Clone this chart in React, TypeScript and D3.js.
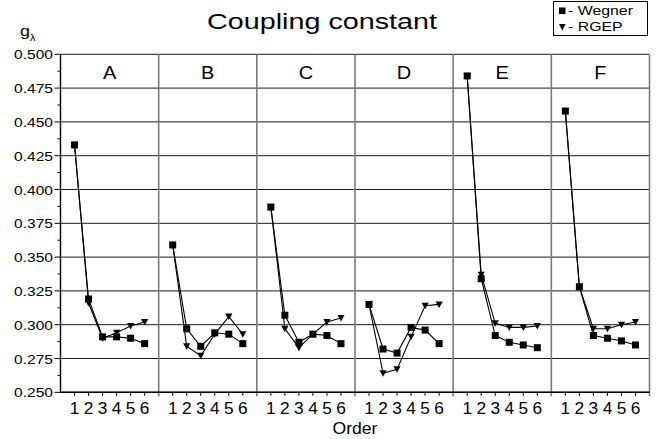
import React from "react";
import * as d3 from "d3";

const panels = ["A", "B", "C", "D", "E", "F"];
const orders = [1, 2, 3, 4, 5, 6];
const yTicks = [0.25, 0.275, 0.3, 0.325, 0.35, 0.375, 0.4, 0.425, 0.45, 0.475, 0.5];

const wegnerA = [0.433, 0.319, 0.291, 0.291, 0.29, 0.286];
const wegnerB = [0.359, 0.297, 0.284, 0.294, 0.293, 0.286];
const wegnerC = [0.387, 0.307, 0.287, 0.293, 0.292, 0.286];
const wegnerD = [0.315, 0.282, 0.279, 0.298, 0.296, 0.286];
const wegnerE = [0.484, 0.334, 0.292, 0.287, 0.285, 0.283];
const wegnerF = [0.458, 0.328, 0.292, 0.29, 0.288, 0.285];

const rgepA = [0.433, 0.316, 0.29, 0.294, 0.299, 0.302];
const rgepB = [0.359, 0.284, 0.277, 0.293, 0.306, 0.293];
const rgepC = [0.387, 0.297, 0.283, 0.293, 0.302, 0.305];
const rgepD = [0.315, 0.264, 0.267, 0.291, 0.314, 0.315];
const rgepE = [0.484, 0.337, 0.301, 0.298, 0.298, 0.299];
const rgepF = [0.458, 0.328, 0.297, 0.297, 0.3, 0.302];

const wegner = [wegnerA, wegnerB, wegnerC, wegnerD, wegnerE, wegnerF];
const rgep = [rgepA, rgepB, rgepC, rgepD, rgepE, rgepF];

const W = 657;
const H = 439;
const L = 60.5;
const R = 649.5;
const T = 54.3;
const B = 392.3;
const FONT = "'Liberation Sans', Arial, Helvetica, sans-serif";

type TProps = {
  x: number;
  y: number;
  size: number;
  sx?: number;
  anchor?: "start" | "middle" | "end";
  children: React.ReactNode;
};

function SText({ x, y, size, sx = 1.2, anchor = "start", children }: TProps) {
  return (
    <text
      transform={`translate(${x},${y}) scale(${sx},1)`}
      textAnchor={anchor}
      fontFamily={FONT}
      fontSize={size}
      fill="#000"
    >
      {children}
    </text>
  );
}

export default function App() {
  const y = d3.scaleLinear().domain([0.25, 0.5]).range([B, T]);
  const panelX = d3.scaleBand<string>().domain(panels).range([L, R]).padding(0);
  const pw = panelX.bandwidth();
  const xIn = d3.scaleLinear().domain([0, 7]).range([0, pw]);
  const line = d3.line<number>();

  const minorY = d3.range(0, yTicks.length - 1).map((i) => (yTicks[i] + yTicks[i + 1]) / 2);

  return (
    <svg width={W} height={H} style={{ position: "absolute", left: 0, top: 0, background: "#fff" }}>
      <rect x={0} y={0} width={W} height={H} fill="#fff" />
      {yTicks.map((t) => (
        <line key={"g" + t} x1={L} x2={R} y1={y(t)} y2={y(t)} stroke="#1a1a1a" strokeWidth={1} />
      ))}
      {panels.map((p, i) =>
        i > 0 ? (
          <line key={"s" + p} x1={panelX(p)!} x2={panelX(p)!} y1={T} y2={B + 4} stroke="#7a7a7a" strokeWidth={1.6} />
        ) : null
      )}
      <line x1={R} x2={R} y1={T} y2={B + 4} stroke="#7a7a7a" strokeWidth={1.6} />
      <line x1={L} x2={L} y1={T} y2={B} stroke="#000" strokeWidth={1.4} />
      <line x1={L} x2={R} y1={B} y2={B} stroke="#000" strokeWidth={1.4} />
      {yTicks.map((t) => (
        <g key={"yt" + t}>
          <line x1={L - 6} x2={L} y1={y(t)} y2={y(t)} stroke="#000" strokeWidth={1} />
          <SText x={L - 7.5} y={y(t) + 5} size={13.4} sx={1.16} anchor="end">
            {d3.format(".3f")(t)}
          </SText>
        </g>
      ))}
      {minorY.map((t) => (
        <line key={"ym" + t} x1={L - 3} x2={L} y1={y(t)} y2={y(t)} stroke="#000" strokeWidth={1} />
      ))}
      {panels.map((p, pi) => {
        const x0 = panelX(p)!;
        const px = (k: number) => x0 + xIn(k + 1);
        const wPts = wegner[pi].map((v, k) => [px(k), y(v)] as [number, number]);
        const rPts = rgep[pi].map((v, k) => [px(k), y(v)] as [number, number]);
        return (
          <g key={p}>
            <SText x={x0 + pw / 2} y={78.5} size={18.5} sx={1.08} anchor="middle">
              {p}
            </SText>
            {orders.map((o, k) => (
              <g key={o}>
                <line x1={px(k)} x2={px(k)} y1={B} y2={B + 3.5} stroke="#000" strokeWidth={1} />
                <SText x={px(k)} y={413.5} size={16} sx={1.08} anchor="middle">
                  {o}
                </SText>
              </g>
            ))}
            <path d={line(rPts)!} fill="none" stroke="#000" strokeWidth={1.1} />
            <path d={line(wPts)!} fill="none" stroke="#000" strokeWidth={1.1} />
            {rPts.map(([cx, cy], k) => (
              <path key={"r" + k} d={`M${cx - 3.6},${cy - 3}L${cx + 3.6},${cy - 3}L${cx},${cy + 3.5}Z`} fill="#000" />
            ))}
            {wPts.map(([cx, cy], k) => (
              <rect key={"w" + k} x={cx - 3.5} y={cy - 3.5} width={7} height={7} fill="#000" />
            ))}
          </g>
        );
      })}
      <text
        x={207}
        y={29}
        fontFamily={FONT}
        fontSize={21.5}
        textLength={230}
        lengthAdjust="spacingAndGlyphs"
        fill="#000"
      >
        Coupling constant
      </text>
      <SText x={20} y={36} size={15.5} sx={1.15}>
        g
      </SText>
      <SText x={30} y={40.5} size={9.5} sx={1.15}>
        λ
      </SText>
      <SText x={355} y={433.5} size={16} sx={1.1} anchor="middle">
        Order
      </SText>
      <rect x={553.5} y={1.5} width={94} height={34} fill="#fff" stroke="#000" strokeWidth={1} />
      <rect x={559} y={7.5} width={6.5} height={6.5} fill="#000" />
      <SText x={568} y={14.5} size={12.4} sx={1.28}>
        - Wegner
      </SText>
      <path d="M559,24L565.5,24L562.25,30.5Z" fill="#000" />
      <SText x={568} y={31} size={12.4} sx={1.28}>
        - RGEP
      </SText>
    </svg>
  );
}
